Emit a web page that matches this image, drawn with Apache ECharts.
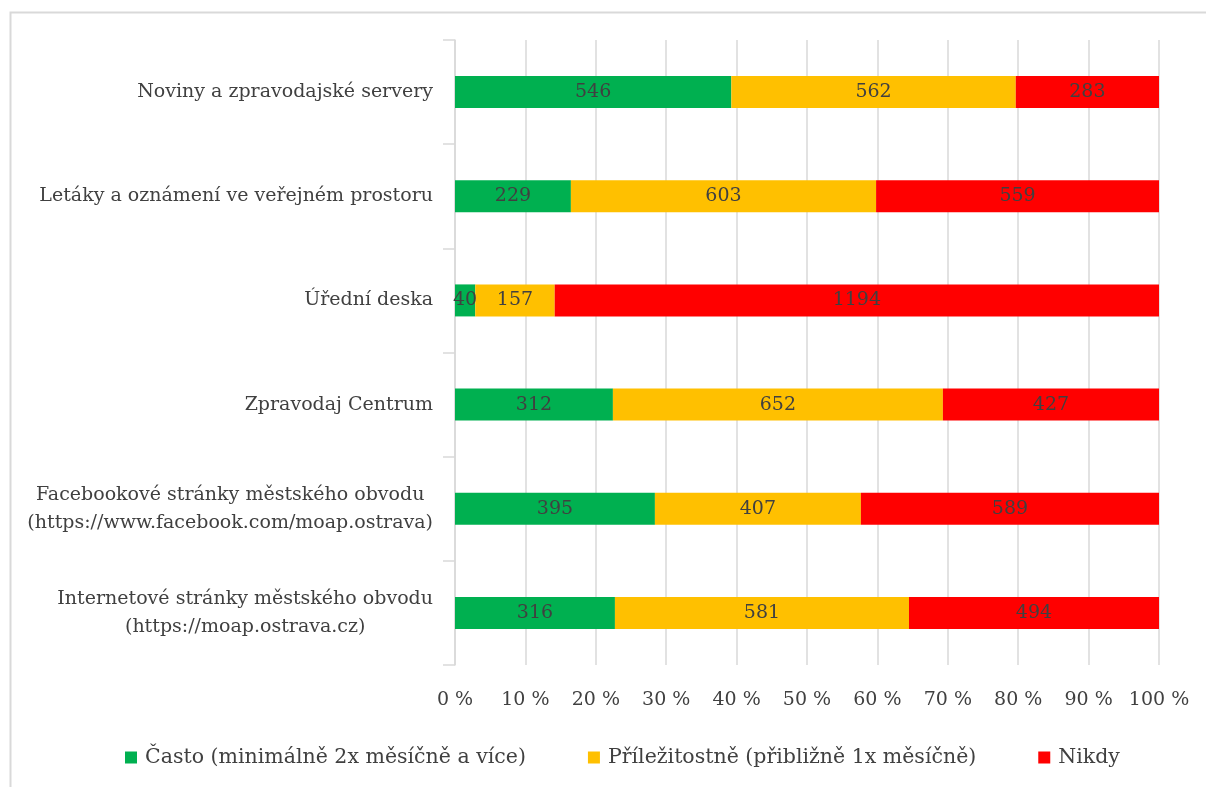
<!DOCTYPE html>
<html>
<head>
<meta charset="utf-8">
<script src="https://cdn.jsdelivr.net/npm/echarts@6/dist/echarts.min.js"></script>
<style>
html,body{margin:0;padding:0;background:#fff;}
#chart{width:1206px;height:787px;}
</style>
</head>
<body>
<div id="chart"></div>
<script>
const categories = [
  "Noviny a zpravodajské servery",
  "Letáky a oznámení ve veřejném prostoru",
  "Úřední deska",
  "Zpravodaj Centrum",
  "Facebookové stránky městského obvodu\n(https://www.facebook.com/moap.ostrava)",
  "Internetové stránky městského obvodu\n(https://moap.ostrava.cz)"
];
const seriesNames = [
  "Často (minimálně 2x měsíčně a více)",
  "Příležitostně (přibližně 1x měsíčně)",
  "Nikdy"
];
const often = [546, 229, 40, 312, 395, 316];
const occasionally = [562, 603, 157, 652, 407, 581];
const never = [283, 559, 1194, 427, 589, 494];
const xTicks = ["0 %","10 %","20 %","30 %","40 %","50 %","60 %","70 %","80 %","90 %","100 %"];

const colors = ["#00B050", "#FFC000", "#FF0000"];
const font = "'DejaVu Serif', serif";
const totals = often.map((v, i) => v + occasionally[i] + never[i]);
const raw = [often, occasionally, never];

const chart = echarts.init(document.getElementById('chart'), null, {renderer: 'canvas'});
chart.setOption({
  animation: false,
  backgroundColor: '#fff',
  color: colors,
  graphic: [{
    type: 'rect',
    shape: {x: 10.5, y: 12.5, width: 1210, height: 800},
    style: {fill: 'none', stroke: '#d9d9d9', lineWidth: 2},
    silent: true,
    z: -1
  }],
  grid: {left: 455, right: 47, top: 40, bottom: 122, containLabel: false},
  legend: {
    left: 120,
    top: 742,
    itemWidth: 12,
    itemHeight: 12,
    itemGap: 62,
    icon: 'rect',
    textStyle: {fontFamily: font, fontSize: 20.5, color: '#404040', padding: [0, 0, 0, 3]},
    data: seriesNames
  },
  xAxis: {
    type: 'value',
    min: 0,
    max: 100,
    interval: 10,
    axisLine: {show: false},
    axisTick: {show: false},
    splitLine: {show: true, lineStyle: {color: '#d9d9d9', width: 1.5}},
    axisLabel: {
      margin: 26,
      fontFamily: font,
      fontSize: 19,
      color: '#404040',
      formatter: (v) => xTicks[Math.round(v / 10)]
    }
  },
  yAxis: {
    type: 'category',
    inverse: true,
    data: categories,
    axisLine: {show: true, lineStyle: {color: '#d9d9d9', width: 1.5}},
    axisTick: {show: true, length: 12, lineStyle: {color: '#d9d9d9', width: 1.5}},
    axisLabel: {
      margin: 22,
      fontFamily: font,
      fontSize: 19,
      color: '#404040',
      lineHeight: 28,
      formatter: (v) => v.split('\n').map(s => '{c|' + s + '}').join('\n'),
      rich: {c: {align: 'center', fontFamily: font, fontSize: 19, color: '#404040', lineHeight: 28}}
    }
  },
  series: raw.map((arr, si) => ({
    name: seriesNames[si],
    type: 'bar',
    stack: 'total',
    barWidth: 32,
    itemStyle: {color: colors[si]},
    label: {
      show: true,
      position: 'inside',
      fontFamily: font,
      fontSize: 19,
      color: '#404040',
      formatter: (p) => String(arr[p.dataIndex])
    },
    data: arr.map((v, i) => v / totals[i] * 100)
  }))
});
</script>
</body>
</html>
